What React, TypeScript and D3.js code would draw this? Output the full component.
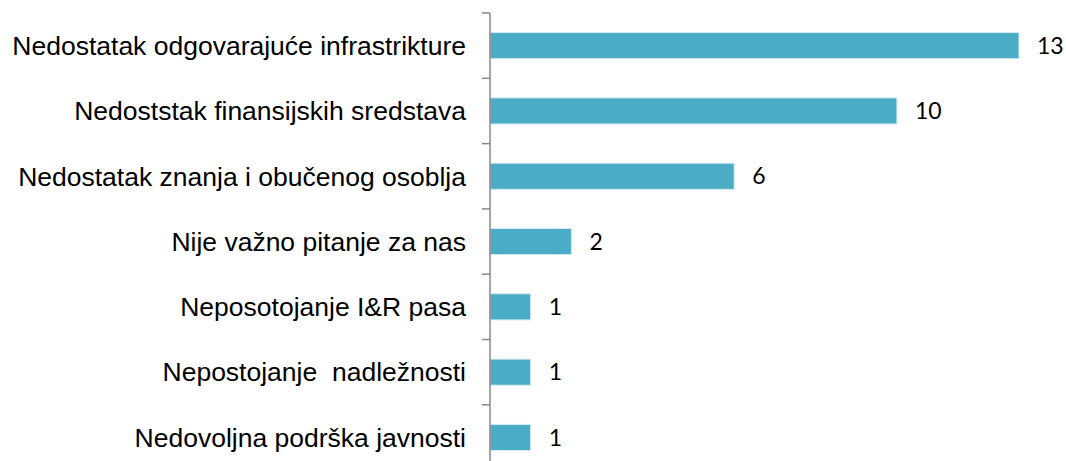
import React from "react";
import * as d3 from "d3";

const categories = [
  "Nedostatak odgovarajuće infrastrikture",
  "Nedoststak finansijskih sredstava",
  "Nedostatak znanja i obučenog osoblja",
  "Nije važno pitanje za nas",
  "Neposotojanje I&R pasa",
  "Nepostojanje  nadležnosti",
  "Nedovoljna podrška javnosti",
];
const values = [13, 10, 6, 2, 1, 1, 1];

const W = 1066;
const H = 461;
const axisX = 490;
const top = 13;
const step = 65.3;

export default function App() {
  const x = d3.scaleLinear().domain([0, 13]).range([axisX, 1019]);
  const y = d3
    .scaleBand<string>()
    .domain(categories)
    .range([top, top + step * categories.length])
    .paddingInner(0.6)
    .paddingOuter(0.3);
  const bw = y.bandwidth();
  const ticks = d3.range(categories.length + 1).map((i) => top + i * step);
  return (
    <svg
      width={W}
      height={H}
      style={{ position: "absolute", left: 0, top: 0 }}
    >
      <rect width={W} height={H} fill="#fff" />
      {categories.map((c, i) => (
        <g key={c}>
          <rect
            x={x(0)}
            y={y(c)!}
            width={x(values[i]) - x(0)}
            height={bw}
            fill="#4BACC6"
            stroke="#d6ecf2"
            strokeWidth={1}
          />
          <text
            x={466}
            y={y(c)! + bw / 2}
            dy="0.35em"
            textAnchor="end"
            fontFamily="Liberation Sans, Arial, sans-serif"
            fontSize={26.5}
            fill="#000"
          >
            {c.replace(/ /g, "\u00a0")}
          </text>
          <text
            x={x(values[i]) + 18}
            y={y(c)! + bw / 2}
            dy="0.35em"
            fontFamily="Lato, 'Open Sans', sans-serif"
            fontSize={23}
            fill="#000"
          >
            {values[i]}
          </text>
        </g>
      ))}
      <line x1={axisX} x2={axisX} y1={top} y2={H + 10} stroke="#888" strokeWidth={1.5} />
      {ticks.map((t, i) => (
        <line key={i} x1={axisX - 8} x2={axisX} y1={t} y2={t} stroke="#888" strokeWidth={1.5} />
      ))}
    </svg>
  );
}
